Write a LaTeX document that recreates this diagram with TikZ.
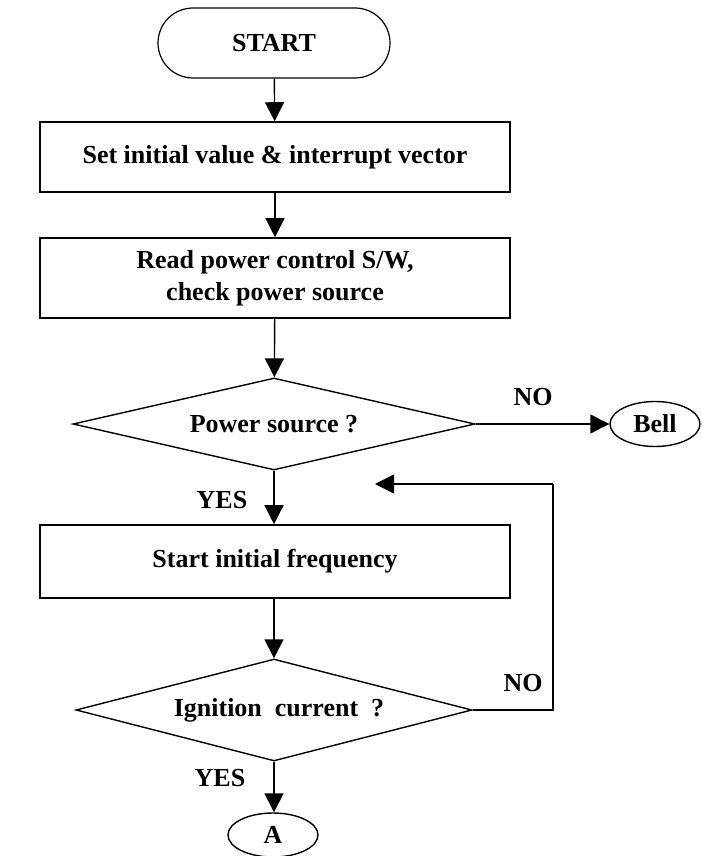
\documentclass[tikz,border=0pt]{standalone}
\usepackage{fontspec}
\setmainfont{Liberation Serif}
\usetikzlibrary{shapes.geometric,arrows.meta}
\begin{document}
\begin{tikzpicture}[x=1pt,y=-1pt,
  every node/.style={font=\fontsize{26}{30}\selectfont\bfseries},
  procbox/.style={draw,line width=1.6pt,minimum width=470pt,inner sep=0pt,align=center},
  decision/.style={draw,shape=diamond,line width=1.4pt,inner sep=0pt,aspect=4},
  term/.style={draw,ellipse,line width=1.4pt,inner sep=0pt,minimum width=90pt,minimum height=45pt},
  arr/.style={line width=1.4pt,-{Triangle[length=19pt,width=19pt]}},
  lbl/.style={inner sep=0pt}]
\useasboundingbox (0,0) rectangle (701,856);
\node[draw,rounded corners=35pt,line width=1.2pt,minimum width=232pt,minimum height=70pt,inner sep=0pt] (start) at (274,43) {START};
\node[procbox,minimum height=70pt] (b1) at (275,157) {Set initial value \& interrupt vector};
\node[procbox,minimum height=80pt] (b2) at (275,278) {Read power control S/W,\\[2pt] check power source};
\node[decision,minimum width=402pt,minimum height=92pt] (d1) at (274,424) {Power source ?};
\node[term] (bell) at (655,424) {Bell};
\node[procbox,minimum height=73pt] (b3) at (275,561.5) {Start initial frequency};
\node[decision,minimum width=396pt,minimum height=102pt] (d2) at (274,710) {\hspace*{10pt}Ignition\ \ current\ \ ?};
\node[term,minimum height=44pt] (a) at (273,835) {A};
\coordinate (c1) at (553,710);
\coordinate (c2) at (553,484);
\coordinate (c3) at (375,484);
\draw[arr] (start) -- (b1);
\draw[arr] (b1) -- (b2);
\draw[arr] (b2) -- (d1);
\draw[arr] (d1.east) -- (bell.west);
\draw[arr] (d1.south) -- (b3.north -| d1.south);
\draw[arr] (b3.south -| d2.north) -- (d2.north);
\draw[arr] (d2.south) -- (a.north -| d2.south);
\draw[line width=1.4pt] (d2.east) -- (c1) -- (c2);
\draw[arr] (c2) -- (c3);
\node[lbl] (no1) at (533,397) {NO};
\node[lbl] (yes1) at (222,500) {YES};
\node[lbl] (no2) at (523,683) {NO};
\node[lbl] (yes2) at (220,778) {YES};
\end{tikzpicture}
\end{document}
